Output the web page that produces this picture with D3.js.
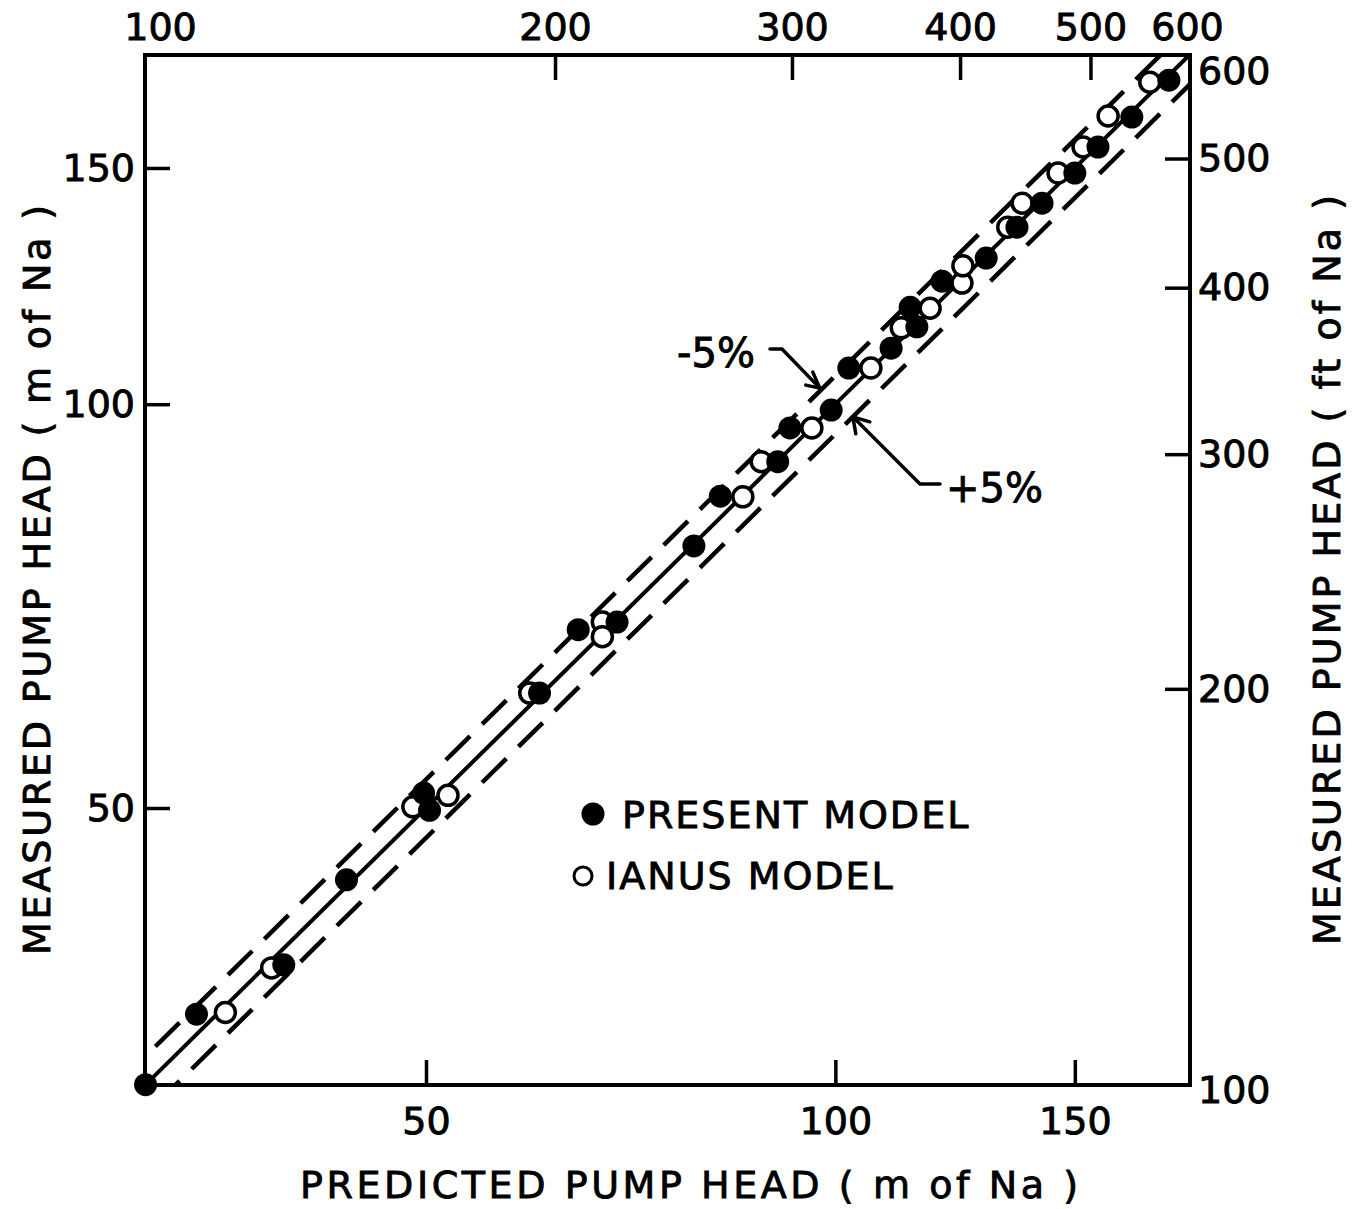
<!DOCTYPE html>
<html><head><meta charset="utf-8">
<script src="https://cdn.jsdelivr.net/npm/d3@7"></script>
<style>
body{margin:0;background:#fff}
svg{display:block;background:#fff}
text{font-family:"DejaVu Sans",sans-serif;fill:#000;stroke:#000;stroke-width:0.9px}
</style>
</head><body>
<svg id="c" width="1363" height="1209"></svg>
<script>
// ---- data (metres of Na) ----
const presentPredicted = [31.1, 33.9, 39.3, 43.7, 49.8, 50.3, 60.6, 64.7, 69.1, 78.7, 82.3, 90.7, 92.6, 99.3, 102.3, 109.9, 113.5, 114.8, 119.8, 129.1, 136.0, 141.9, 150.0, 156.0, 165.2, 175.9];
const presentMeasured  = [31.1, 35.1, 38.2, 44.2, 51.3, 49.8, 60.9, 67.9, 68.8, 78.4, 85.4, 90.6, 96.0, 99.0, 106.4, 110.1, 118.1, 114.2, 123.5, 128.5, 135.5, 141.2, 148.7, 155.5, 163.7, 174.4];
const ianusPredicted = [35.6, 38.5, 48.9, 51.9, 59.6, 67.4, 67.4, 85.5, 88.2, 96.1, 106.2, 111.8, 117.4, 123.9, 124.1, 133.9, 137.2, 145.8, 152.1, 158.7, 170.3];
const ianusMeasured  = [35.2, 38.0, 50.1, 51.1, 60.9, 68.8, 67.1, 85.3, 90.6, 96.0, 106.4, 114.0, 117.9, 123.1, 126.8, 135.5, 141.2, 148.7, 155.5, 164.0, 173.8];
const mTicks = [50, 100, 150];
const ftLabels = [100, 200, 300, 400, 500, 600];
const ftTicks = [200, 300, 400, 500];
const bandFactors = [1.05, 0.95];
const bandLabels = ["-5%", "+5%"];
const legendLabels = ["PRESENT MODEL", "IANUS MODEL"];

const svg = d3.select("#c");
const L = 145, R = 1190, T = 55, B = 1085;
const x = d3.scaleLog().domain([31.07, 182.3]).range([L, R]);
const y = d3.scaleLog().domain([31.08, 182.1]).range([B, T]);
const xFt = d3.scaleLog().domain([100, 600]).range([150, 1197]);
const yFt = d3.scaleLog().domain([100, 600]).range([1090, 53]);

svg.append("defs").append("clipPath").attr("id", "clip")
  .append("rect").attr("x", L).attr("y", T).attr("width", R - L).attr("height", B - T);

const fs = 38;
function styleAxis(g) {
  g.select(".domain").remove();
  g.selectAll(".tick line").attr("stroke", "#000").attr("stroke-width", 3.5);
  g.selectAll(".tick text").attr("font-size", fs).attr("font-family", '"DejaVu Sans",sans-serif').attr("fill", "#000");
}

// bottom (m)
svg.append("g").attr("transform", `translate(0,${B})`)
  .call(d3.axisBottom(x).tickValues(mTicks).tickFormat(d3.format("d")).tickSize(-25).tickPadding(22))
  .call(styleAxis);
// left (m)
svg.append("g").attr("transform", `translate(${L},0)`)
  .call(d3.axisLeft(y).tickValues(mTicks).tickFormat(d3.format("d")).tickSize(-25).tickPadding(10))
  .call(styleAxis);
// top (ft)
const gTop = svg.append("g").attr("transform", `translate(0,${T})`)
  .call(d3.axisTop(xFt).tickValues(ftLabels).tickFormat(d3.format("d")).tickSize(-25).tickPadding(15))
  .call(styleAxis);
gTop.selectAll(".tick").filter(d => !ftTicks.includes(d)).select("line").remove();
gTop.selectAll(".tick").filter(d => d === 100).select("text").attr("dx", 10);
gTop.selectAll(".tick").filter(d => d === 600).select("text").attr("dx", -10);
// right (ft)
const gRight = svg.append("g").attr("transform", `translate(${R},0)`)
  .call(d3.axisRight(yFt).tickValues(ftLabels).tickFormat(d3.format("d")).tickSize(-25).tickPadding(8))
  .call(styleAxis);
gRight.selectAll(".tick").filter(d => !ftTicks.includes(d)).select("line").remove();
gRight.selectAll(".tick").filter(d => d === 600).select("text").attr("dy", "0.8em");

// reference lines
const dom = x.domain();
const lineGen = d3.line().x(d => x(d[0])).y(d => y(d[1]));
const plot = svg.append("g").attr("clip-path", "url(#clip)");
plot.append("path").datum([[dom[0], dom[0]], [dom[1], dom[1]]])
  .attr("d", lineGen).attr("fill", "none").attr("stroke", "#000").attr("stroke-width", 4);
bandFactors.forEach(f => {
  plot.append("path").datum([[dom[0] * 0.9, dom[0] * 0.9 * f], [dom[1] * 1.1, dom[1] * 1.1 * f]])
    .attr("d", lineGen).attr("fill", "none").attr("stroke", "#000")
    .attr("stroke-width", 4.5).attr("stroke-dasharray", "34,17");
});

// frame
svg.append("rect").attr("x", L).attr("y", T).attr("width", R - L).attr("height", B - T)
  .attr("fill", "none").attr("stroke", "#000").attr("stroke-width", 4);

// markers
svg.append("g").selectAll("circle").data(d3.zip(ianusPredicted, ianusMeasured)).join("circle")
  .attr("cx", d => x(d[0])).attr("cy", d => y(d[1])).attr("r", 10)
  .attr("fill", "#fff").attr("stroke", "#000").attr("stroke-width", 3.5);
svg.append("g").selectAll("circle").data(d3.zip(presentPredicted, presentMeasured)).join("circle")
  .attr("cx", d => x(d[0])).attr("cy", d => y(d[1])).attr("r", 11.5)
  .attr("fill", "#000");

// annotations (-5% / +5%)
const ann = svg.append("g").attr("fill", "none").attr("stroke", "#000").attr("stroke-width", 3.5)
  .attr("stroke-linecap", "round").attr("stroke-linejoin", "round");
{
  const tx = x(97.4), ty = y(97.4 * bandFactors[0]) - 3;
  ann.append("path").attr("d", `M770,349 L782,349 L${tx},${ty}`);
  ann.append("path").attr("d", `M${tx - 7},${ty - 16} L${tx},${ty} L${tx - 14},${ty - 3}`);
  svg.append("text").attr("x", 677).attr("y", 367).attr("font-size", 40).text(bandLabels[0]);
}
{
  const tx = x(103.0), ty = y(103.0 * bandFactors[1]);
  ann.append("path").attr("d", `M940,484 L920,484 L${tx},${ty}`);
  ann.append("path").attr("d", `M${tx + 3},${ty + 17} L${tx},${ty} L${tx + 17},${ty + 5}`);
  svg.append("text").attr("x", 946).attr("y", 502).attr("font-size", 40).text(bandLabels[1]);
}

// legend
svg.append("circle").attr("cx", 593).attr("cy", 814).attr("r", 11.5).attr("fill", "#000");
svg.append("text").attr("x", 622).attr("y", 828).attr("font-size", 38).attr("letter-spacing", 2).text(legendLabels[0]);
svg.append("circle").attr("cx", 583).attr("cy", 876).attr("r", 9).attr("fill", "#fff").attr("stroke", "#000").attr("stroke-width", 3);
svg.append("text").attr("x", 606).attr("y", 889).attr("font-size", 38).attr("letter-spacing", 2).text(legendLabels[1]);

// axis titles
svg.append("text").attr("x", 689).attr("y", 1198).attr("text-anchor", "middle")
  .attr("font-size", 38).attr("textLength", 778).attr("lengthAdjust", "spacing")
  .text("PREDICTED PUMP HEAD ( m of Na )");
svg.append("text").attr("transform", "translate(50,580) rotate(-90)").attr("text-anchor", "middle")
  .attr("font-size", 38).attr("textLength", 750).attr("lengthAdjust", "spacing")
  .text("MEASURED PUMP HEAD ( m of Na )");
svg.append("text").attr("transform", "translate(1340,570) rotate(-90)").attr("text-anchor", "middle")
  .attr("font-size", 38).attr("textLength", 750).attr("lengthAdjust", "spacing")
  .text("MEASURED PUMP HEAD ( ft of Na )");
</script>
</body></html>
